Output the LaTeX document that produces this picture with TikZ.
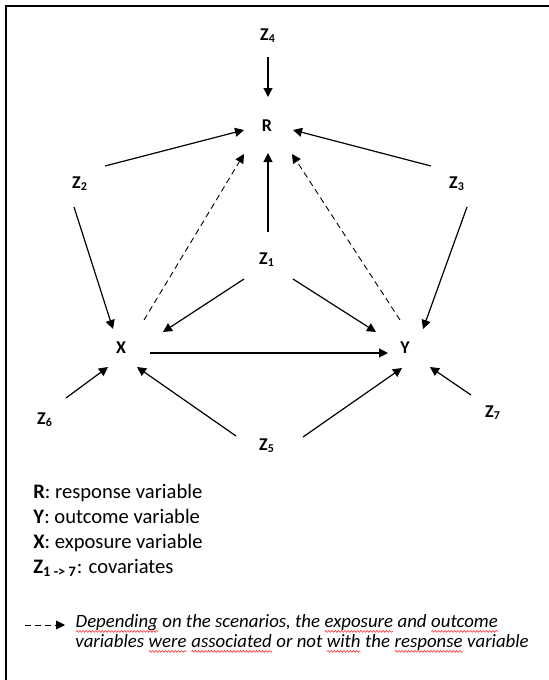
\documentclass[tikz,border=0pt]{standalone}
\usepackage{fontspec}
\setmainfont{Carlito}
\usetikzlibrary{arrows.meta,calc,decorations.pathmorphing}
\newcommand\redwave[1]{\tikz[baseline=(w.base)]{\node[inner sep=0pt,outer sep=0pt] (w) {#1};%
  \draw[red!80,line width=0.3pt,decorate,decoration={snake,segment length=1.6pt,amplitude=0.45pt}]
    ([yshift=-2.2pt]w.base west) -- ([yshift=-2.2pt]w.base east);}}

\begin{document}
\begin{tikzpicture}[x=0.5pt,y=-0.5pt,
    var/.style={font=\bfseries\fontsize{9}{10}\selectfont},
    arr/.style={-{Triangle[length=4.5pt,width=4.5pt]},line width=0.6pt},
    darr/.style={arr,line width=0.45pt,dash pattern=on 3pt off 2pt},
    legend/.style={anchor=base west,inner sep=0pt,font=\fontsize{10.3}{11}\selectfont}]
  \useasboundingbox (0,0) rectangle (549,680);
  \draw[line width=1pt] (6,680) -- (6,6) -- (549,6);
  \draw
    (268,36) node[var] (Z4){Z\textsubscript{4}}
    (267,126) node[var] (R){R}
    (80,184) node[var] (Z2){Z\textsubscript{2}}
    (457,184) node[var] (Z3){Z\textsubscript{3}}
    (267,260) node[var] (Z1){Z\textsubscript{1}}
    (121,348) node[var] (X){X}
    (405,348) node[var] (Y){Y}
    (45,420) node[var] (Z6){Z\textsubscript{6}}
    (493,413) node[var] (Z7){Z\textsubscript{7}}
    (267,446) node[var] (Z5){Z\textsubscript{5}};
  \begin{scope}[arr]
    \draw ($(Z4)+(0,21)$) to ($(R)+(1,-29)$);
    \draw ($(Z2)+(25,-18)$) to ($(R)+(-23,4)$);
    \draw ($(Z3)+(-26,-18)$) to ($(R)+(26,4)$);
    \draw ($(Z1)+(1,-28)$) to ($(R)+(1,27)$);
    \draw ($(Z2)+(-6,23)$) to ($(X)+(-8,-19)$);
    \draw ($(Z3)+(10,23)$) to ($(Y)+(18,-19)$);
    \draw ($(Z1)+(-23,19)$) to ($(X)+(42,-16)$);
    \draw ($(Z1)+(26,19)$) to ($(Y)+(-29,-16)$);
    \draw ($(X)+(29,5)$) to ($(Y)+(-17,5)$);
    \draw ($(Z6)+(21,-22)$) to ($(X)+(-13,19)$);
    \draw ($(Z5)+(-31,-10)$) to ($(X)+(16,19)$);
    \draw ($(Z5)+(36,-9)$) to ($(Y)+(-3,20)$);
    \draw ($(Z7)+(-22,-18)$) to ($(Y)+(25,19)$);
  \end{scope}
  \begin{scope}[darr]
    \draw ($(X)+(23,-28)$) to ($(R)+(-23,28)$);
    \draw ($(Y)+(-5,-28)$) to ($(R)+(25,28)$);
  \end{scope}
  % legend
  \node[legend] (lr) at (33,498) {\textbf{R}: response variable};
  \node[legend] (ly) at (33,523) {\textbf{Y}: outcome variable};
  \node[legend] (lx) at (33,548) {\textbf{X}: exposure variable};
  \node[legend] (lz) at (33,573) {\textbf{Z\textsubscript{1 -> 7}}: covariates};
  \node[legend,align=left,font=\itshape\fontsize{9.4}{10}\selectfont] (ld) at (75,647)
    {\redwave{Depending} on the scenarios, the \redwave{exposure} and \redwave{outcome}\\
     variables \redwave{were} \redwave{associated} or not \redwave{with} the \redwave{response} variable};
  \coordinate (ls) at (25,625);
  \coordinate (le) at (65,625);
  \draw[darr] (ls) -- (le);
\end{tikzpicture}
\end{document}
